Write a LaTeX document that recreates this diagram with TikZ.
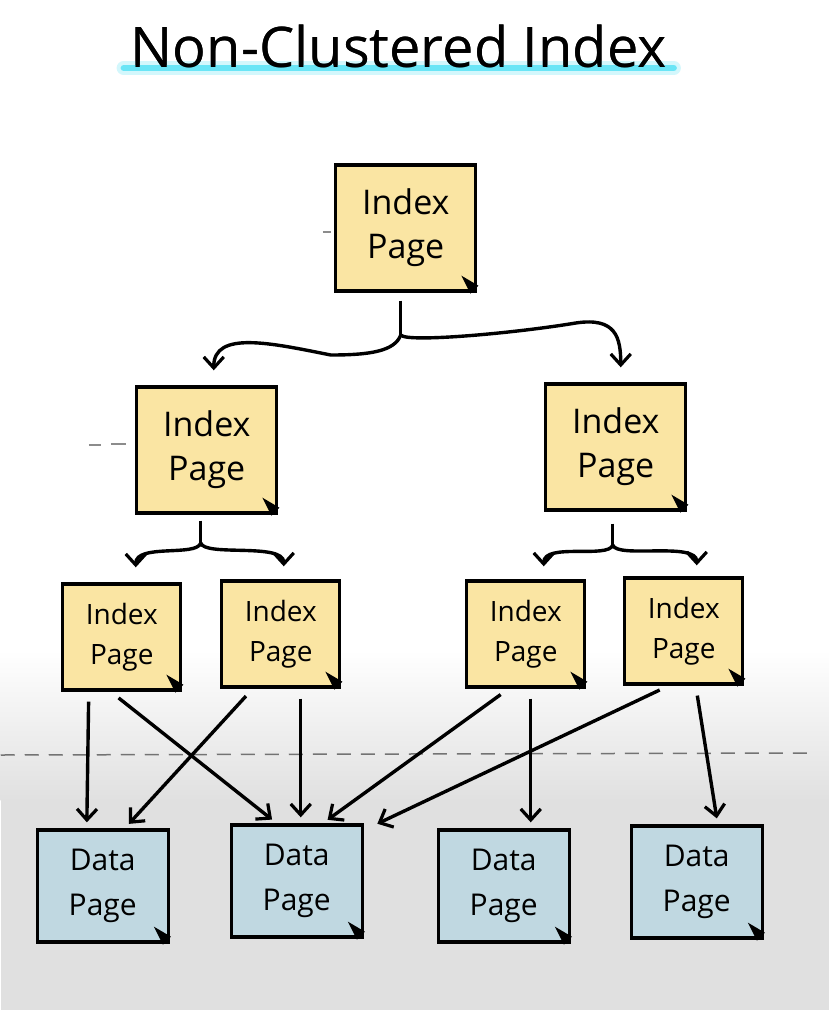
\documentclass[tikz,border=0pt]{standalone}
\usepackage{fontspec}
\setmainfont{Open Sans}
\usetikzlibrary{arrows.meta}

\definecolor{notepaper}{RGB}{250,229,163}
\definecolor{datapaper}{RGB}{192,216,225}
\definecolor{marker}{RGB}{80,225,245}

\newcommand{\dogear}[1]{\fill ([xshift=-16pt,yshift=17pt]#1.south east) -- ([xshift=1pt,yshift=7pt]#1.south east) -- ([xshift=-7pt,yshift=-1pt]#1.south east) -- cycle;}

\begin{document}
\begin{tikzpicture}[x=1pt,y=-1pt, line width=3.4pt,
	>={Straight Barb[length=11pt,width=20pt,line width=3.2pt]},
	idxbig/.style={draw,fill=notepaper,align=center,inner sep=0pt,minimum width=140pt,minimum height=126pt,font=\fontsize{34}{44}\selectfont},
	idxsmall/.style={draw,fill=notepaper,align=center,inner sep=0pt,minimum width=118pt,minimum height=106pt,font=\fontsize{28}{40}\selectfont},
	datapg/.style={draw,fill=datapaper,align=center,inner sep=0pt,minimum width=131pt,minimum height=112pt,font=\fontsize{30}{45}\selectfont},
	link/.style={->,shorten <=10pt,shorten >=6pt}]

		% background
		\fill[white] (0,0) rectangle (828,1010);
		\shade[top color=white,bottom color=black!12,draw=none] (0,650) rectangle (828,800);
		\fill[black!12] (0,799) rectangle (828,1010);
		\draw[black!55,line width=1.5pt,dash pattern=on 14pt off 10pt] (0,755) -- (812,753);
		\draw[black!45,line width=1.2pt] (88,445) -- (100,445) (110,444) -- (125,444) (322,232) -- (330,232);

		% title
		\node[font=\fontsize{56}{64}\selectfont] (title) at (398,46) {Non-Clustered Index};
		\draw[marker,opacity=0.25,line width=14pt,line cap=round] ([xshift=-2pt,yshift=-1pt]title.base west) -- ([xshift=2pt,yshift=-1pt]title.base east);
		\draw[marker,opacity=0.8,line width=6pt,line cap=round] ([xshift=-2pt,yshift=-1pt]title.base west) -- ([xshift=2pt,yshift=-1pt]title.base east);
		\node[font=\fontsize{56}{64}\selectfont] at (title) {Non-Clustered Index};

		% index pages
		\node[idxbig] (idxTop) at (405,228) {Index\\Page};
		\node[idxbig] (idxL) at (206,450) {Index\\Page};
		\node[idxbig] (idxR) at (615,447) {Index\\Page};
		\node[idxsmall] (idxLL) at (121,637) {Index\\Page};
		\node[idxsmall] (idxLR) at (280,634) {Index\\Page};
		\node[idxsmall] (idxRL) at (525,634) {Index\\Page};
		\node[idxsmall] (idxRR) at (683,631) {Index\\Page};

		% data pages
		\node[datapg] (dataA) at (102,886) {Data\\Page};
		\node[datapg] (dataB) at (296,881) {Data\\Page};
		\node[datapg] (dataC) at (503,886) {Data\\Page};
		\node[datapg] (dataD) at (696,882) {Data\\Page};

		\foreach \n in {idxTop,idxL,idxR,idxLL,idxLR,idxRL,idxRR,dataA,dataB,dataC,dataD}
		{\dogear{\n}}

		% forks
		\coordinate (forkTop) at (400,335);
		\coordinate (forkL) at (200,543);
		\coordinate (forkR) at (612,545);
		\draw ([xshift=-5pt,yshift=-8pt]idxTop.south) -- (forkTop);
		\draw[->] (forkTop) .. controls +(-6,16) and +(40,0) .. (330,355) .. controls +(-60,-12) and +(0,-40) .. ([xshift=7pt,yshift=15pt]idxL.north);
		\draw[->] (forkTop) .. controls +(6,8) and +(-60,10) .. (575,323) .. controls +(40,-6) and +(0,-30) .. ([xshift=5pt,yshift=15pt]idxR.north);

		\draw ([xshift=-6pt,yshift=-6pt]idxL.south) -- (forkL);
		\draw[->] (forkL) .. controls +(-4,14) and +(0,-24) .. ([xshift=14pt,yshift=15pt]idxLL.north);
		\draw[->] (forkL) .. controls +(4,14) and +(0,-24) .. ([xshift=3pt,yshift=13pt]idxLR.north);

		\draw ([xshift=-3pt,yshift=-12pt]idxR.south) -- (forkR);
		\draw[->] (forkR) .. controls +(-4,14) and +(0,-24) .. ([xshift=18pt,yshift=13pt]idxRL.north);
		\draw[->] (forkR) .. controls +(4,14) and +(0,-24) .. ([xshift=13pt,yshift=11pt]idxRR.north);

		% index to data
		\draw[link] ([xshift=-33pt]idxLL.south) -- ([xshift=-16pt]dataA.north);
		\draw[link] ([xshift=-11pt]idxLL.south) -- ([xshift=-20pt]dataB.north);
		\draw[link] ([xshift=-28pt]idxLR.south) -- ([xshift=22pt]dataA.north);
		\draw[link] ([xshift=20pt]idxLR.south) -- ([xshift=4pt]dataB.north);
		\draw[link] ([xshift=-17pt]idxRL.south) -- ([xshift=26pt]dataB.north);
		\draw[link] ([xshift=5pt]idxRL.south) -- ([xshift=27pt]dataC.north);
		\draw[link] ([xshift=-15pt]idxRR.south) -- ([xshift=8pt,yshift=-3pt]dataB.north east);
		\draw[link] ([xshift=12pt]idxRR.south) -- ([xshift=21pt]dataD.north);
	\end{tikzpicture}
\end{document}
